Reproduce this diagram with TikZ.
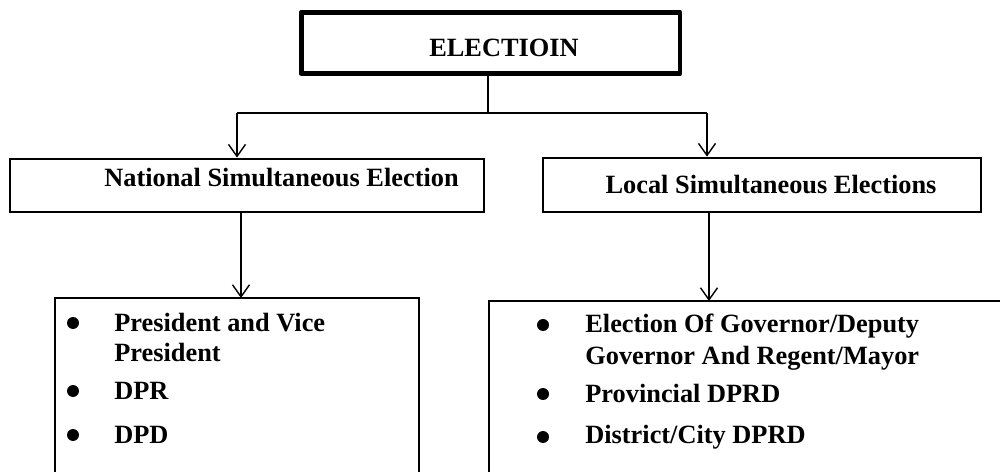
\documentclass[tikz,border=0pt]{standalone}
\usepackage{fontspec}
\setmainfont{Liberation Serif}
\usetikzlibrary{arrows.meta}
\begin{document}
\begin{tikzpicture}[x=0.02cm,y=-0.02cm,
  lbl/.style={font=\fontsize{15}{18}\selectfont\bfseries, inner sep=0pt},
  topbox/.style={draw, line width=2.8pt, line join=round, inner sep=0pt},
  midbox/.style={draw, line width=1.6pt, inner sep=0pt},
  conn/.style={line width=0.8pt},
  arr/.style={conn, -{Straight Barb[length=0.24cm,width=0.34cm,line width=0.8pt]}},
  dot/.style={circle, fill, inner sep=0pt, minimum size=0.24cm}]
\clip (0,0) rectangle (1000,472);
% top box
\node[topbox, minimum width=7.58cm, minimum height=1.23cm] (top) at (490.5,43) {};
\node[lbl, anchor=base] (toptxt) at (504,57) {ELECTIOIN};
% junction
\coordinate (j) at (488,113);
\coordinate (jl) at (237,113);
\coordinate (jr) at (707,113);
% middle boxes
\node[midbox, minimum width=9.48cm, minimum height=1.06cm] (nat) at (247,185.5) {};
\node[lbl, anchor=base] (nattxt) at (281.5,187) {National Simultaneous Election};
\node[midbox, minimum width=8.76cm, minimum height=1.08cm] (loc) at (762,185) {};
\node[lbl, anchor=base] (loctxt) at (771,194) {Local Simultaneous Elections};
% connectors top
\draw[conn] (top.south -| j) -- (j);
\draw[conn] (jl) -- (jr);
\draw[arr] (jl) -- (jl |- nat.north);
\draw[arr] (jr) -- (jr |- loc.north);
% bottom boxes
\draw[line width=1.6pt] (55,520) coordinate (lbl1) |- (419,298) coordinate (ltop) -- (419,520);
\draw[line width=1.6pt] (489,520) |- (1010,301) coordinate (rtop);
\coordinate (la) at (241,298);
\coordinate (ra) at (709,301);
\draw[arr] (241,212) -- (la);
\draw[arr] (709,212) -- (ra);
% left list
\node[dot] (b1) at (73,323) {};
\node[dot] (b2) at (73,391) {};
\node[dot] (b3) at (73,435) {};
\node[lbl, anchor=base west] (l1a) at (114,332) {President and Vice};
\node[lbl, anchor=base west] (l1b) at (114,362) {President};
\node[lbl, anchor=base west] (l2) at (114,399) {DPR};
\node[lbl, anchor=base west] (l3) at (114,443) {DPD};
% right list
\node[dot] (c1) at (543,325) {};
\node[dot] (c2) at (543,394) {};
\node[dot] (c3) at (543,437) {};
\node[lbl, anchor=base west] (r1a) at (585,333) {Election Of Governor/Deputy};
\node[lbl, anchor=base west] (r1b) at (585,365) {Governor And Regent/Mayor};
\node[lbl, anchor=base west] (r2) at (585,403) {Provincial DPRD};
\node[lbl, anchor=base west] (r3) at (585,443) {District/City DPRD};
\end{tikzpicture}
\end{document}
